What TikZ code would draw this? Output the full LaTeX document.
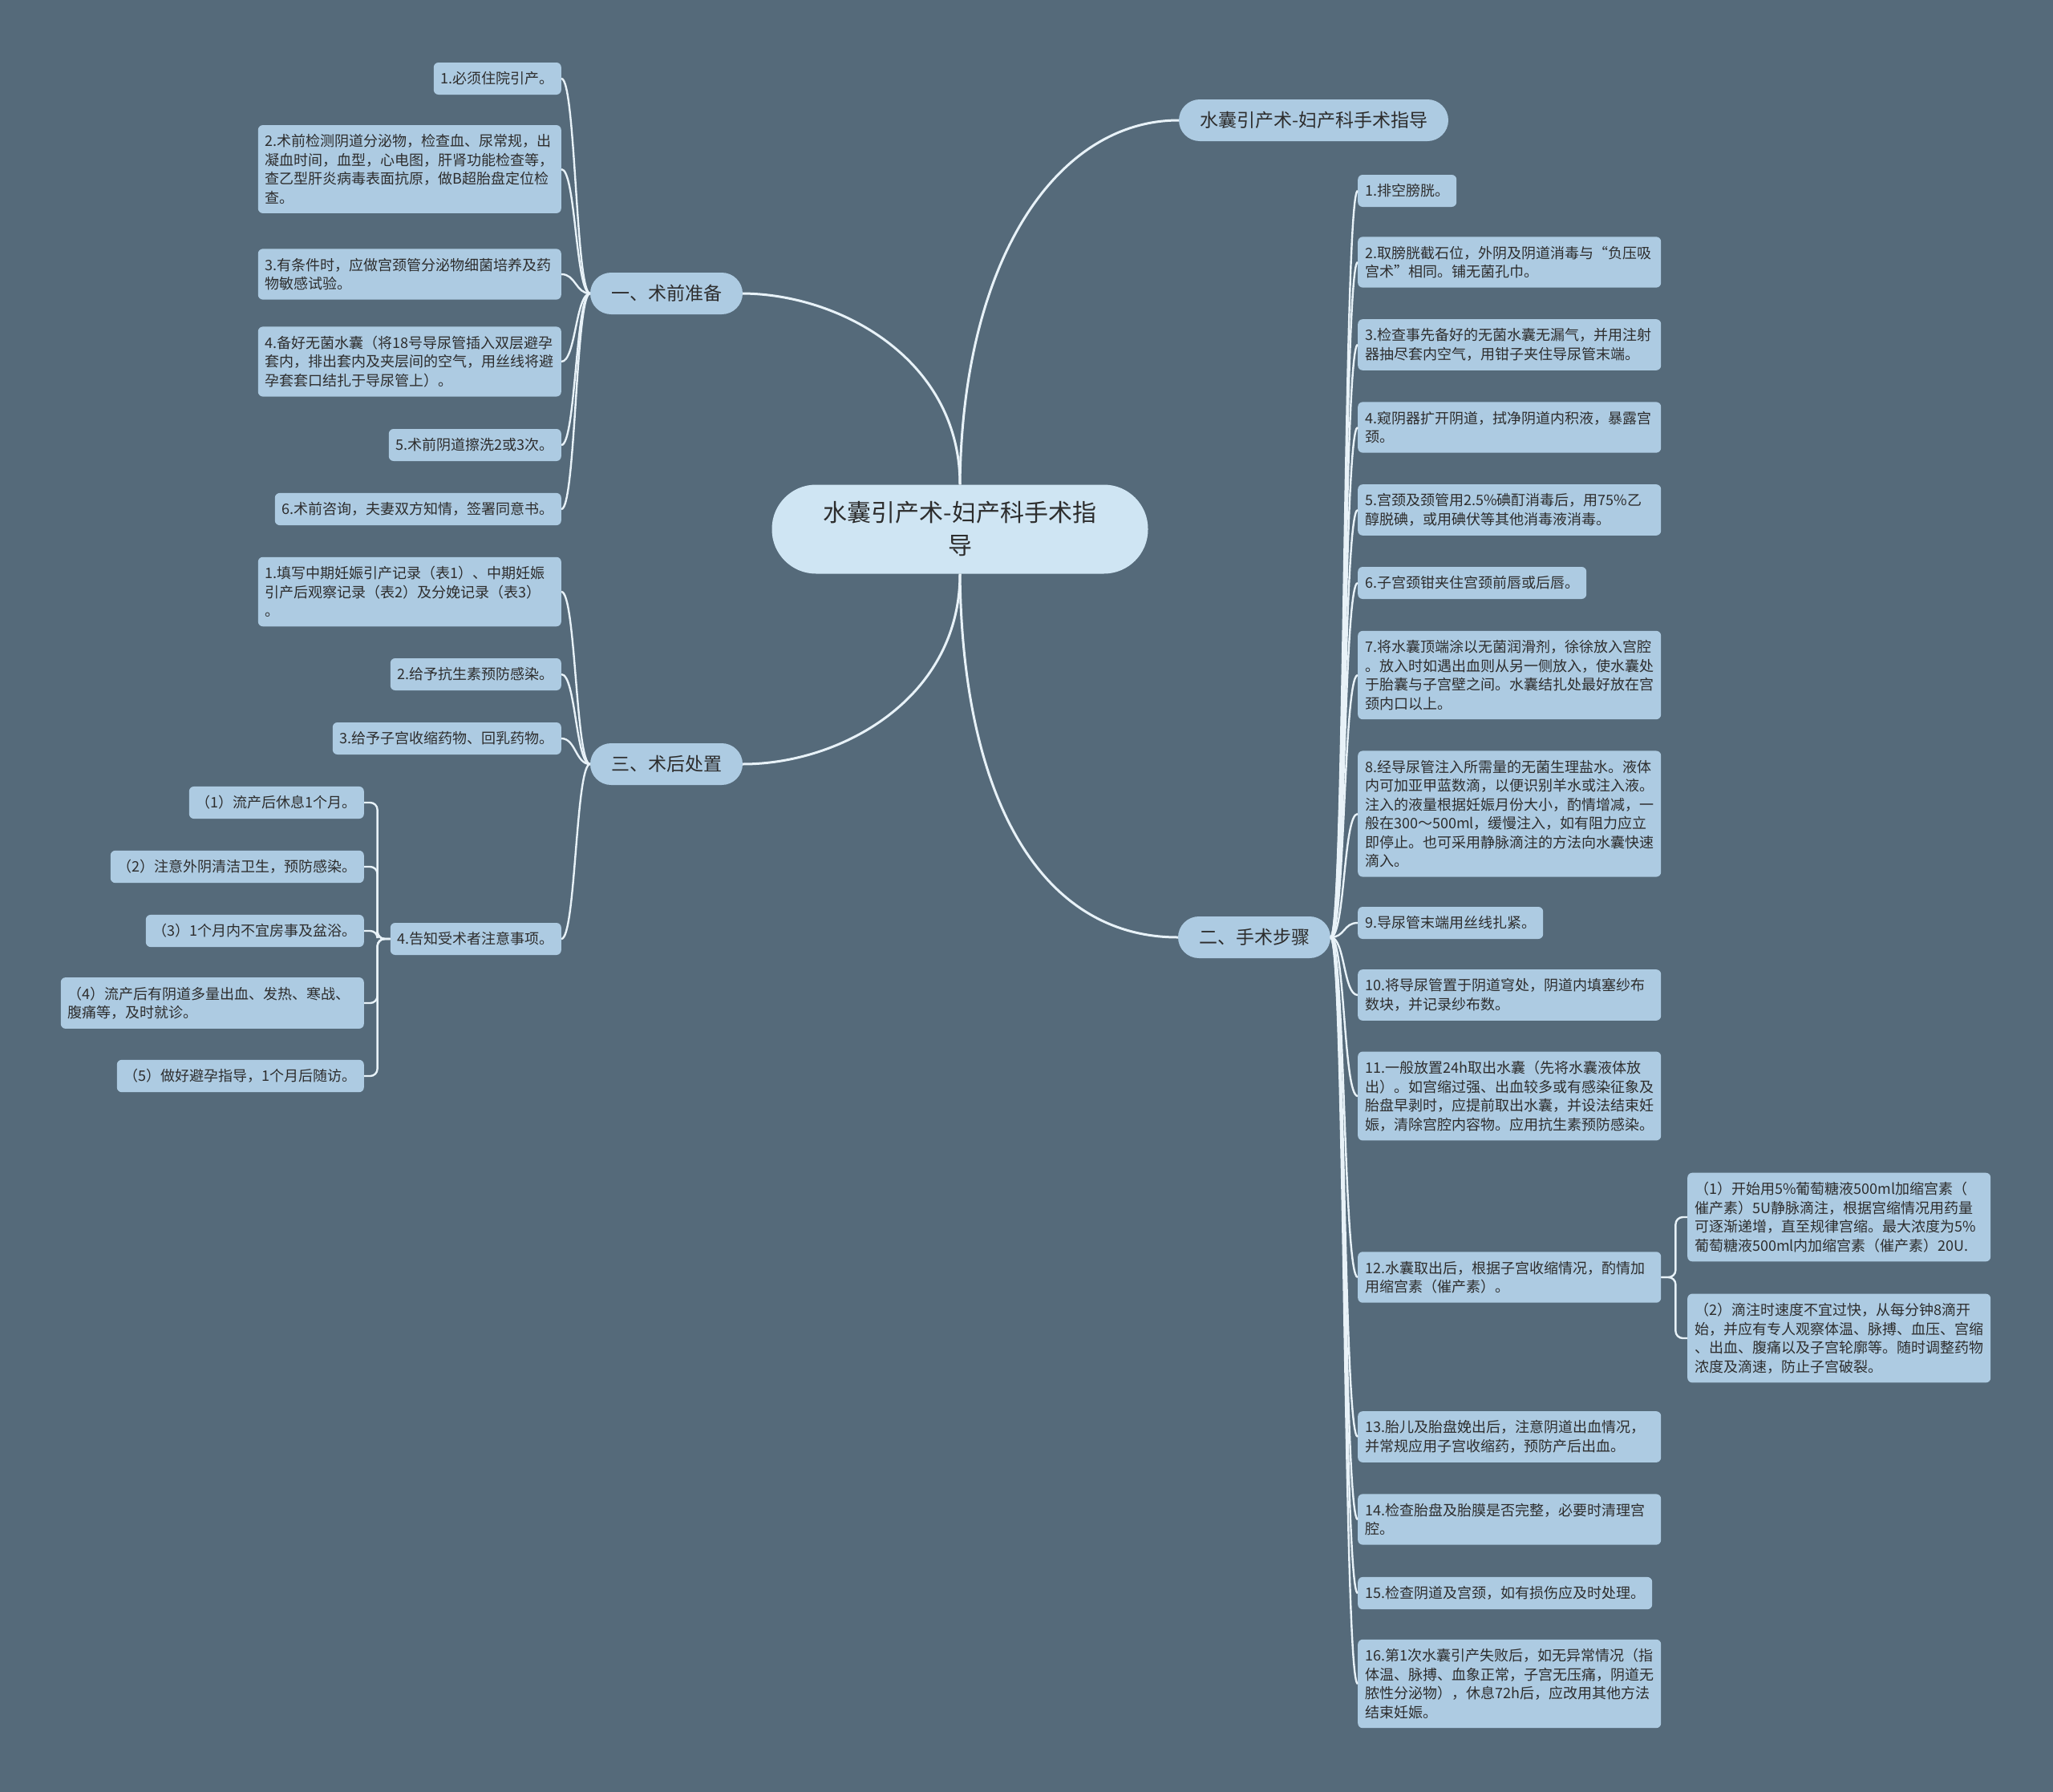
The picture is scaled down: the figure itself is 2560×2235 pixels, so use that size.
\documentclass[tikz,border=0pt]{standalone}
\usepackage{fontspec}
\newfontfamily\cjk{Noto Sans CJK SC}
\usetikzlibrary{calc}
\definecolor{bgcol}{RGB}{85,106,122}
\definecolor{leafcol}{RGB}{173,203,226}
\definecolor{rootcol}{RGB}{207,229,243}
\definecolor{linecol}{RGB}{232,242,248}
\definecolor{inkcol}{RGB}{45,45,45}

\begin{document}
\begin{tikzpicture}[x=1pt, y=-1pt,
  leaf/.style={fill=leafcol, rounded corners=6pt, inner xsep=9pt, inner ysep=11.5pt,
    minimum height=40pt, align=left, text=inkcol, font=\cjk\fontsize{18}{23.5}\selectfont},
  wide/.style={text width=360pt},
  branch/.style={fill=leafcol, rounded corners=26pt, minimum width=190pt, minimum height=52pt,
    inner sep=0pt, text=inkcol, font=\cjk\fontsize{23}{28}\selectfont},
  trunk/.style={draw=linecol, line width=3pt},
  stem/.style={draw=linecol, line width=2.4pt,
    to path={.. controls ($(\tikztostart)+(#1,0)$) and ($(\tikztotarget)-(#1,0)$) .. (\tikztotarget)}},
  twig/.style={draw=linecol, line width=2.4pt, rounded corners=9pt}]
  \fill[bgcol] (0,0) rectangle (2560,2235);
  \useasboundingbox (0,0) rectangle (2560,2235);

  % centre and first level
  \node[fill=rootcol, rounded corners=55pt, minimum width=469pt, minimum height=111pt, text width=360pt,
    align=center, text=inkcol, font=\cjk\fontsize{30}{41}\selectfont] (root) at (1197,660)
    {水囊引产术-妇产科手术指\\导};
  \node[branch, inner xsep=26pt, minimum width=0pt] (guide) at (1638,150) {水囊引产术-妇产科手术指导};
  \node[branch] (pre) at (831,366) {一、术前准备};
  \node[branch] (post) at (831,953) {三、术后处置};
  \node[branch] (steps) at (1564,1169) {二、手术步骤};
  \draw[trunk] (root.north) .. controls (1200,320) and (1320,150) .. (guide.west);
  \draw[trunk] (root.north) .. controls (1197,450) and (1050,367) .. (pre.east);
  \draw[trunk] (root.south) .. controls (1197,870) and (1050,953) .. (post.east);
  \draw[trunk] (root.south) .. controls (1200,1000) and (1300,1169) .. (steps.west);

  % 一、术前准备
  \node[leaf, anchor=east] (pre1) at (700,98) {1.必须住院引产。};
  \node[leaf, wide, anchor=east] (pre2) at (700,211) {2.术前检测阴道分泌物，检查血、尿常规，出\\凝血时间，血型，心电图，肝肾功能检查等，\\查乙型肝炎病毒表面抗原，做B超胎盘定位检\\查。};
  \node[leaf, wide, anchor=east] (pre3) at (700,342) {3.有条件时，应做宫颈管分泌物细菌培养及药\\物敏感试验。};
  \node[leaf, wide, anchor=east] (pre4) at (700,451) {4.备好无菌水囊（将18号导尿管插入双层避孕\\套内，排出套内及夹层间的空气，用丝线将避\\孕套套口结扎于导尿管上）。};
  \node[leaf, anchor=east] (pre5) at (700,555) {5.术前阴道擦洗2或3次。};
  \node[leaf, anchor=east] (pre6) at (700,635) {6.术前咨询，夫妻双方知情，签署同意书。};
  \draw[stem=-18] (pre.west) to (pre1.east); \draw[stem=-18] (pre.west) to (pre2.east);
  \draw[stem=-18] (pre.west) to (pre3.east); \draw[stem=-18] (pre.west) to (pre4.east);
  \draw[stem=-18] (pre.west) to (pre5.east); \draw[stem=-18] (pre.west) to (pre6.east);

  % 三、术后处置
  \node[leaf, wide, anchor=east] (post1) at (700,738) {1.填写中期妊娠引产记录（表1）、中期妊娠\\引产后观察记录（表2）及分娩记录（表3）\\。};
  \node[leaf, anchor=east] (post2) at (700,841) {2.给予抗生素预防感染。};
  \node[leaf, anchor=east] (post3) at (700,921) {3.给予子宫收缩药物、回乳药物。};
  \node[leaf, anchor=east] (post4) at (700,1171) {4.告知受术者注意事项。};
  \draw[stem=-18] (post.west) to (post1.east); \draw[stem=-18] (post.west) to (post2.east);
  \draw[stem=-18] (post.west) to (post3.east); \draw[stem=-18] (post.west) to (post4.east);
  \node[leaf, anchor=east] (care1) at (454,1001) {（1）流产后休息1个月。};
  \node[leaf, anchor=east] (care2) at (454,1081) {（2）注意外阴清洁卫生，预防感染。};
  \node[leaf, anchor=east] (care3) at (454,1161) {（3）1个月内不宜房事及盆浴。};
  \node[leaf, wide, anchor=east] (care4) at (454,1251) {（4）流产后有阴道多量出血、发热、寒战、\\腹痛等，及时就诊。};
  \node[leaf, anchor=east] (care5) at (454,1342) {（5）做好避孕指导，1个月后随访。};
  \draw[twig] (post4.west) -- ++(-16,0) |- (care1.east); \draw[twig] (post4.west) -- ++(-16,0) |- (care2.east);
  \draw[twig] (post4.west) -- ++(-16,0) |- (care3.east); \draw[twig] (post4.west) -- ++(-16,0) |- (care4.east);
  \draw[twig] (post4.west) -- ++(-16,0) |- (care5.east);

  % 二、手术步骤
  \node[leaf, anchor=west] (step1) at (1693,238) {1.排空膀胱。};
  \node[leaf, wide, anchor=west] (step2) at (1693,327) {2.取膀胱截石位，外阴及阴道消毒与“负压吸\\宫术”相同。铺无菌孔巾。};
  \node[leaf, wide, anchor=west] (step3) at (1693,430) {3.检查事先备好的无菌水囊无漏气，并用注射\\器抽尽套内空气，用钳子夹住导尿管末端。};
  \node[leaf, wide, anchor=west] (step4) at (1693,533) {4.窥阴器扩开阴道，拭净阴道内积液，暴露宫\\颈。};
  \node[leaf, wide, anchor=west] (step5) at (1693,636) {5.宫颈及颈管用2.5\%碘酊消毒后，用75\%乙\\醇脱碘，或用碘伏等其他消毒液消毒。};
  \node[leaf, anchor=west] (step6) at (1693,727) {6.子宫颈钳夹住宫颈前唇或后唇。};
  \node[leaf, wide, anchor=west] (step7) at (1693,842) {7.将水囊顶端涂以无菌润滑剂，徐徐放入宫腔\\。放入时如遇出血则从另一侧放入，使水囊处\\于胎囊与子宫壁之间。水囊结扎处最好放在宫\\颈内口以上。};
  \node[leaf, wide, anchor=west] (step8) at (1693,1015) {8.经导尿管注入所需量的无菌生理盐水。液体\\内可加亚甲蓝数滴，以便识别羊水或注入液。\\注入的液量根据妊娠月份大小，酌情增减，一\\般在300～500ml，缓慢注入，如有阻力应立\\即停止。也可采用静脉滴注的方法向水囊快速\\滴入。};
  \node[leaf, anchor=west] (step9) at (1693,1151) {9.导尿管末端用丝线扎紧。};
  \node[leaf, wide, anchor=west] (step10) at (1693,1241) {10.将导尿管置于阴道穹处，阴道内填塞纱布\\数块，并记录纱布数。};
  \node[leaf, wide, anchor=west] (step11) at (1693,1367) {11.一般放置24h取出水囊（先将水囊液体放\\出）。如宫缩过强、出血较多或有感染征象及\\胎盘早剥时，应提前取出水囊，并设法结束妊\\娠，清除宫腔内容物。应用抗生素预防感染。};
  \node[leaf, wide, anchor=west] (step12) at (1693,1593) {12.水囊取出后，根据子宫收缩情况，酌情加\\用缩宫素（催产素）。};
  \node[leaf, wide, anchor=west] (step13) at (1693,1792) {13.胎儿及胎盘娩出后，注意阴道出血情况，\\并常规应用子宫收缩药，预防产后出血。};
  \node[leaf, wide, anchor=west] (step14) at (1693,1895) {14.检查胎盘及胎膜是否完整，必要时清理宫\\腔。};
  \node[leaf, anchor=west] (step15) at (1693,1987) {15.检查阴道及宫颈，如有损伤应及时处理。};
  \node[leaf, wide, anchor=west] (step16) at (1693,2100) {16.第1次水囊引产失败后，如无异常情况（指\\体温、脉搏、血象正常，子宫无压痛，阴道无\\脓性分泌物），休息72h后，应改用其他方法\\结束妊娠。};
  \draw[stem=18] (steps.east) to (step1.west);  \draw[stem=18] (steps.east) to (step2.west);
  \draw[stem=18] (steps.east) to (step3.west);  \draw[stem=18] (steps.east) to (step4.west);
  \draw[stem=18] (steps.east) to (step5.west);  \draw[stem=18] (steps.east) to (step6.west);
  \draw[stem=18] (steps.east) to (step7.west);  \draw[stem=18] (steps.east) to (step8.west);
  \draw[stem=18] (steps.east) to (step9.west);  \draw[stem=18] (steps.east) to (step10.west);
  \draw[stem=18] (steps.east) to (step11.west); \draw[stem=18] (steps.east) to (step12.west);
  \draw[stem=18] (steps.east) to (step13.west); \draw[stem=18] (steps.east) to (step14.west);
  \draw[stem=18] (steps.east) to (step15.west); \draw[stem=18] (steps.east) to (step16.west);
  \node[leaf, wide, anchor=west] (drip1) at (2104,1518) {（1）开始用5\%葡萄糖液500ml加缩宫素（\\催产素）5U静脉滴注，根据宫缩情况用药量\\可逐渐递增，直至规律宫缩。最大浓度为5\%\\葡萄糖液500ml内加缩宫素（催产素）20U.};
  \node[leaf, wide, anchor=west] (drip2) at (2104,1669) {（2）滴注时速度不宜过快，从每分钟8滴开\\始，并应有专人观察体温、脉搏、血压、宫缩\\、出血、腹痛以及子宫轮廓等。随时调整药物\\浓度及滴速，防止子宫破裂。};
  \draw[twig] (step12.east) -- ++(18,0) |- (drip1.west); \draw[twig] (step12.east) -- ++(18,0) |- (drip2.west);
\end{tikzpicture}
\end{document}
